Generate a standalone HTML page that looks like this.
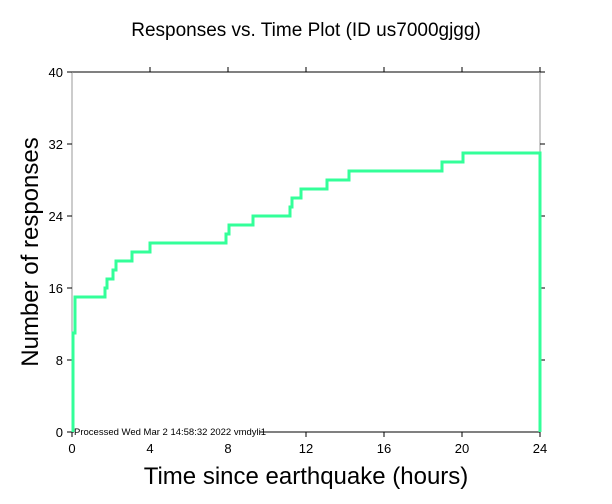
<!DOCTYPE html>
<html><head><style>body{margin:0;background:#fff}svg{display:block}</style></head><body>
<svg width="612" height="504" xmlns="http://www.w3.org/2000/svg" font-family="Liberation Sans, sans-serif">
<rect width="612" height="504" fill="#fff"/>
<text x="306" y="36" font-size="19" text-anchor="middle">Responses vs. Time Plot (ID us7000gjgg)</text>
<g stroke="#000" stroke-width="1" fill="none">
<line x1="72" y1="432" x2="540" y2="432"/>
<line x1="72" y1="72" x2="540" y2="72"/>
</g>
<g stroke="#999" stroke-width="1"><line x1="72" y1="72" x2="72" y2="432"/><line x1="540" y1="72" x2="540" y2="432"/></g>
<g stroke="#000" stroke-width="1">
<line x1="67" y1="432" x2="72" y2="432"/><line x1="67" y1="360" x2="72" y2="360"/><line x1="67" y1="288" x2="72" y2="288"/><line x1="67" y1="216" x2="72" y2="216"/><line x1="67" y1="144" x2="72" y2="144"/><line x1="67" y1="72" x2="72" y2="72"/>
<line x1="540" y1="360" x2="545" y2="360"/><line x1="540" y1="288" x2="545" y2="288"/><line x1="540" y1="216" x2="545" y2="216"/><line x1="540" y1="144" x2="545" y2="144"/><line x1="540" y1="72" x2="545" y2="72"/>
<line x1="72" y1="432" x2="72" y2="437"/><line x1="150" y1="432" x2="150" y2="437"/><line x1="228" y1="432" x2="228" y2="437"/><line x1="306" y1="432" x2="306" y2="437"/><line x1="384" y1="432" x2="384" y2="437"/><line x1="462" y1="432" x2="462" y2="437"/><line x1="540" y1="432" x2="540" y2="437"/>
<line x1="150" y1="72" x2="150" y2="67"/><line x1="228" y1="72" x2="228" y2="67"/><line x1="306" y1="72" x2="306" y2="67"/><line x1="384" y1="72" x2="384" y2="67"/><line x1="462" y1="72" x2="462" y2="67"/><line x1="540" y1="72" x2="540" y2="67"/>
</g>
<g font-size="13" text-anchor="end">
<text x="63" y="437">0</text><text x="63" y="365">8</text><text x="63" y="293">16</text><text x="63" y="221">24</text><text x="63" y="149">32</text><text x="63" y="77">40</text>
</g>
<g font-size="13" text-anchor="middle">
<text x="72" y="453">0</text><text x="150" y="453">4</text><text x="228" y="453">8</text><text x="306" y="453">12</text><text x="384" y="453">16</text><text x="462" y="453">20</text><text x="540" y="453">24</text>
</g>
<rect x="74" y="425" width="186" height="12" fill="#fff"/>
<text x="74" y="435" font-size="9.5">Processed Wed Mar  2 14:58:32 2022 vmdyli1</text>
<text x="306" y="484" font-size="24" text-anchor="middle">Time since earthquake (hours)</text>
<text transform="translate(38,252) rotate(-90)" font-size="24" text-anchor="middle">Number of responses</text>
<polyline fill="none" stroke="#33ff99" stroke-width="3" points="73,432 73,333 75,333 75,297 105,297 105,288 107,288 107,279 113,279 113,270 116,270 116,261 132,261 132,252 150,252 150,243 226,243 226,234 229,234 229,225 253,225 253,216 290,216 290,207 292,207 292,198 301,198 301,189 327,189 327,180 349,180 349,171 442,171 442,162 463,162 463,153 540,153 540,432"/>
</svg>
</body></html>
